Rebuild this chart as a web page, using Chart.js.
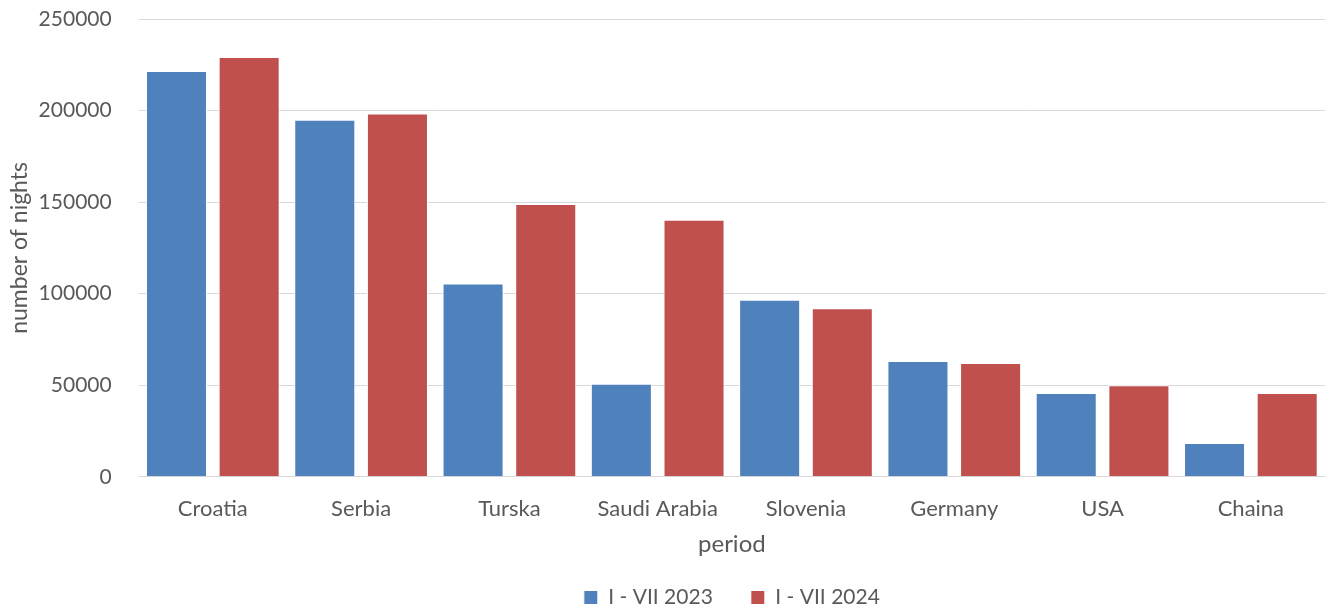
<!DOCTYPE html>
<html lang="en">
<head>
    <meta charset="UTF-8">
    <title>Number of nights</title>
    <script src="https://cdn.jsdelivr.net/npm/chart.js"></script>
    <style>
        body { margin: 0; background: #fff; }
        #wrap { width: 1328px; height: 608px; position: relative; }
    </style>
</head>
<body>
    <div id="wrap"><canvas id="nightsChart"></canvas></div>

    <script>
        // values
        const countries = ["Croatia", "Serbia", "Turska", "Saudi Arabia", "Slovenia", "Germany", "USA", "Chaina"];
        const nights2023 = [221600, 195000, 105500, 50800, 96700, 63200, 45800, 18400];
        const nights2024 = [229300, 198400, 149000, 140400, 92100, 62100, 50000, 45700];
        const seriesNames = ["I - VII 2023", "I - VII 2024"];

        const textColor = "#595959";
        const fontFamily = "Lato, 'Open Sans', sans-serif";

        new Chart(document.getElementById("nightsChart"), {
            type: "bar",
            data: {
                labels: countries,
                datasets: [
                    { label: seriesNames[0], data: nights2023, backgroundColor: "#4F81BD", borderColor: "#ffffff", borderWidth: 1 },
                    { label: seriesNames[1], data: nights2024, backgroundColor: "#C0504D", borderColor: "#ffffff", borderWidth: 1 }
                ]
            },
            options: {
                responsive: true,
                maintainAspectRatio: false,
                animation: false,
                categoryPercentage: 0.98,
                barPercentage: 0.84,
                layout: { padding: { top: 19, right: 3, left: 2, bottom: -10 } },
                plugins: {
                    legend: {
                        position: "bottom",
                        fullSize: false,
                        labels: {
                            boxWidth: 14,
                            boxHeight: 14,
                            padding: 38,
                            color: textColor,
                            font: { family: fontFamily, size: 21 }
                        }
                    },
                    tooltip: { enabled: false }
                },
                scales: {
                    x: {
                        grid: { display: false },
                        border: { color: "#d9d9d9" },
                        ticks: { color: textColor, padding: 11, font: { family: fontFamily, size: 22 } },
                        title: { display: true, text: "period", color: textColor, padding: { top: -3, bottom: -10 }, font: { family: fontFamily, size: 24 } }
                    },
                    y: {
                        min: 0,
                        max: 250000,
                        // transparent tick marks give the gap between labels and plot
                        grid: { color: "#d9d9d9", drawTicks: true, tickLength: 26, tickColor: "rgba(0,0,0,0)" },
                        border: { display: false },
                        ticks: {
                            stepSize: 50000,
                            color: textColor,
                            padding: 1,
                            font: { family: fontFamily, size: 21 },
                            callback: v => String(v)
                        },
                        title: { display: true, text: "number of nights", color: textColor, padding: { top: 4, bottom: 4 }, font: { family: fontFamily, size: 23 } }
                    }
                }
            }
        });
    </script>
</body>
</html>
